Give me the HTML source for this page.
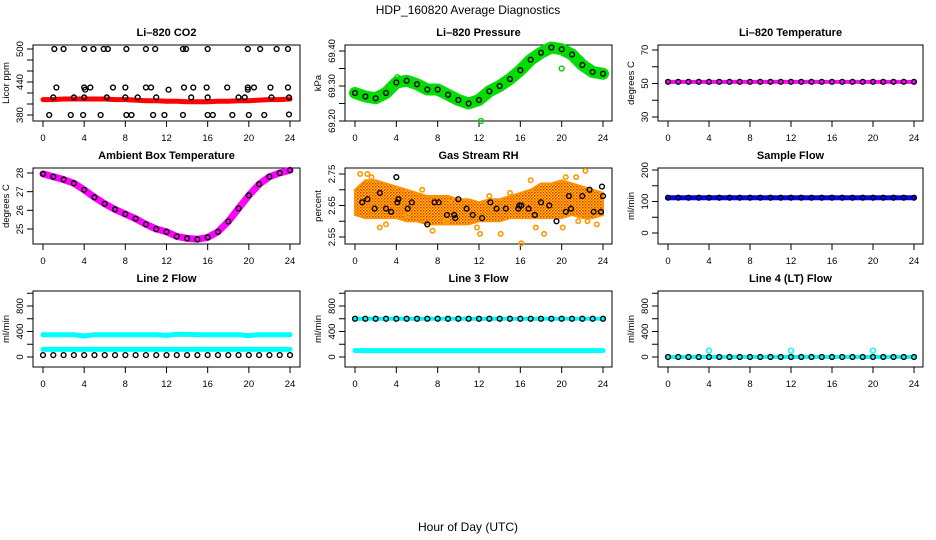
<!DOCTYPE html>
<html><head><meta charset="utf-8"><style>
body{margin:0;background:#fff;width:936px;height:540px;overflow:hidden}
svg{display:block;font-family:"Liberation Sans",sans-serif}
</style></head><body>
<svg id="chart" width="936" height="540" viewBox="0 0 936 540">
<defs>
<pattern id="rhpat" width="3" height="3" patternUnits="userSpaceOnUse"><rect width="3" height="3" fill="#ffd000"/><rect width="1.5" height="1.5" fill="#ff2000"/><rect x="1.5" y="1.5" width="1.5" height="1.5" fill="#ff6000"/></pattern>
</defs>
<text x="468" y="14" text-anchor="middle" font-size="12">HDP_160820  Average Diagnostics</text>
<text x="468" y="531" text-anchor="middle" font-size="12">Hour of Day (UTC)</text>
</svg>
<script>
const hours=[0,1,2,3,4,5,6,7,8,9,10,11,12,13,14,15,16,17,18,19,20,21,22,23,24];
const xTicks=[0,4,8,12,16,20,24];
const co2Red=[408,408,409,409,409,409,409,408,408,407,406,406,405,405,404,404,404,405,405,406,406,407,408,408,409];
const co2Black=[[1.1,500],[2,500],[4,500],[4.9,500],[5.9,500],[6.3,500],[8.1,500],[10,500],[10.9,500],[13.6,500],[13.9,500],[16,500],[19.9,500],[21.1,500],[22.7,500],[23.8,500],
[1.3,430],[4,430],[4.6,430],[6.8,430],[8,430],[10,430],[10.5,430],[13.7,430],[14.6,430],[15.9,430],[17.9,430],[19.9,430],[20.5,430],[22.1,430],[23.8,430],
[1,412],[3,412],[4,412],[6.2,412],[8,412],[9.2,412],[11,412],[14.4,412],[16,412],[19,412],[19.6,412],[22.2,412],[23.9,412],
[0.6,380],[2.7,380],[3.9,380],[5.6,380],[8.1,380],[8.6,380],[10.7,380],[11.8,380],[13.6,380],[16,380],[16.5,380],[18.4,380],[20,380],[21.5,380],[23.9,381],[4.1,426],[12.2,426],[19.9,426]];
const pressure=[69.28,69.27,69.265,69.28,69.31,69.315,69.305,69.29,69.29,69.275,69.26,69.25,69.26,69.285,69.30,69.32,69.345,69.375,69.395,69.41,69.405,69.39,69.36,69.34,69.335];
const ambient=[27.95,27.8,27.65,27.45,27.1,26.7,26.35,26.05,25.8,25.55,25.25,25.0,24.85,24.6,24.5,24.45,24.55,24.85,25.4,26.1,26.8,27.4,27.8,28.0,28.15];
const rhUpper=[2.70,2.73,2.73,2.72,2.71,2.70,2.69,2.68,2.68,2.68,2.67,2.67,2.66,2.67,2.67,2.68,2.69,2.70,2.72,2.72,2.73,2.72,2.71,2.70,2.69];
const rhLower=[2.62,2.61,2.61,2.61,2.61,2.60,2.60,2.59,2.59,2.59,2.59,2.59,2.60,2.60,2.60,2.61,2.61,2.61,2.61,2.61,2.61,2.62,2.61,2.61,2.62];
const rhOrange=[[0.5,2.75],[1.2,2.75],[1.6,2.74],[2.4,2.58],[3,2.59],[7.5,2.57],[8.8,2.60],[9.3,2.67],[11.8,2.58],[12.1,2.56],[14.1,2.56],[16.1,2.53],[17.5,2.58],[18.3,2.56],[20.1,2.58],[21.4,2.74],[22.3,2.76],[21.6,2.60],[22.5,2.60],[23.4,2.59],[20.4,2.74],[5,2.62],[6.5,2.70],[13,2.68],[15,2.69],[17,2.73]];
const rhBlack=[[0.7,2.66],[1.2,2.67],[1.9,2.64],[2.4,2.69],[3,2.64],[3.5,2.63],[4,2.74],[4.1,2.66],[4.2,2.67],[5.1,2.64],[5.5,2.66],[7,2.59],[7.7,2.66],[8.1,2.66],[8.9,2.62],[9.6,2.62],[9.7,2.61],[10,2.67],[10.8,2.64],[11.4,2.62],[12.3,2.61],[13.1,2.66],[13.7,2.64],[14.6,2.64],[15.8,2.64],[15.9,2.65],[16.1,2.65],[16.8,2.64],[17.4,2.62],[18,2.66],[18.8,2.65],[19.5,2.60],[20.4,2.63],[20.7,2.68],[20.9,2.64],[22,2.68],[22.7,2.70],[23.1,2.63],[23.8,2.63],[24,2.68],[23.9,2.71]];
const liTemp=[51,51,51,51,51,51,51,51,51,51,51,51,51,51,51,51,51,51,51,51,51,51,51,51,51];
const sampleFlow=[112,112,112,112,112,112,112,112,112,112,112,112,112,112,112,112,112,112,112,112,112,112,112,112,112];
const line2High=[350,350,350,350,330,350,350,350,350,350,350,350,340,355,355,350,350,350,350,350,335,350,350,350,350];
const line2Low=[120,120,120,120,120,120,120,120,120,120,120,120,120,120,120,120,120,120,120,120,120,120,120,120,120];
const line2Black=[30,30,30,30,30,30,30,30,30,30,30,30,30,30,30,30,30,30,30,30,30,30,30,30,30];
const line3High=[600,600,600,600,600,600,600,600,600,600,600,600,600,600,600,600,600,600,600,600,600,600,600,600,600];
const line3Low=[100,100,100,100,100,100,100,100,100,100,100,100,100,100,100,100,100,100,100,100,100,100,100,100,100];
const line4=[0,0,0,0,0,0,0,0,0,0,0,0,0,0,0,0,0,0,0,0,0,0,0,0,0];
const line4Spikes=[[4,100],[12,100],[20,100]];

const svg=document.getElementById('chart');
const NS='http://www.w3.org/2000/svg';
function mk(tag,attrs,parent){const e=document.createElementNS(NS,tag);for(const k in attrs)e.setAttribute(k,attrs[k]);(parent||svg).appendChild(e);return e;}
const cols=[[33,300,43,290],[345,612,355,603],[658,923,668,914]];
const rows=[[45,121],[168,244],[291,367]];
function panel(name,c,r,title,ylab,v0,p0,v1,p1,yt,ylabels){
  const g=mk('g',{});
  
  
  const [bl,br,x0,x24]=cols[c],[bt,bb]=rows[r];
  const P={g,x:h=>x0+h*(x24-x0)/24,y:v=>p0+(v-v0)*(p1-p0)/(v1-v0)};
  const t=mk('text',{x:(bl+br)/2,y:bt-9,'text-anchor':'middle','font-size':'11','font-weight':'bold'},g);t.textContent=title;
  
  const box=mk('rect',{x:bl,y:bt,width:br-bl,height:bb-bt,fill:'none',stroke:'#000','stroke-width':1},g);
  
  xTicks.forEach(h=>{const X=P.x(h);mk('line',{x1:X,x2:X,y1:bb,y2:bb+6,stroke:'#000'},g);
    const l=mk('text',{x:X,y:bb+20,'text-anchor':'middle','font-size':'9.5'},g);l.textContent=h;
    });
  yt.forEach(v=>{const Y=P.y(v);mk('line',{x1:bl-6,x2:bl,y1:Y,y2:Y,stroke:'#000'},g);
    if(ylabels.includes(v)){const l=mk('text',{x:bl-10,y:Y,'text-anchor':'middle','font-size':'9.5',transform:`rotate(-90 ${bl-10} ${Y})`},g);l.textContent=(typeof v==='number'&&v%1!==0)?v.toFixed(2):v;
    }});
  const yl=mk('text',{x:bl-24,y:(bt+bb)/2,'text-anchor':'middle','font-size':'9.5',transform:`rotate(-90 ${bl-24} ${(bt+bb)/2})`},g);yl.textContent=ylab;
  
  return P;
}
function band(P,vals,color,w,name){const pts=hours.map((h,i)=>P.x(h)+','+P.y(vals[i])).join(' ');
  const e=mk('polyline',{points:pts,fill:'none',stroke:color,'stroke-width':w,'stroke-linejoin':'round','stroke-linecap':'round'},P.g);
  }
function dots(P,pairs,color,r,sw,name){pairs.forEach(([h,v])=>{const e=mk('circle',{cx:P.x(h),cy:P.y(v),r:r,fill:'none',stroke:color,'stroke-width':sw},P.g);
  });}
function series(vals){return hours.map((h,i)=>[h,vals[i]]);}

let P=panel('co2',0,0,'Li\u2013820 CO2','Licor ppm',380,115,500,49,[380,400,420,440,460,480,500],[380,440,500]);
band(P,co2Red,'#ff0000',5,'co2-red-series');
dots(P,co2Black,'#000',2.4,1.4,'co2-point');
P=panel('pressure',1,0,'Li\u2013820 Pressure','kPa',69.20,121,69.40,51,[69.20,69.25,69.30,69.35,69.40],[69.20,69.30,69.40]);
band(P,pressure,'#00dd00',12,'pressure-green-series');
dots(P,[[12.2,69.20],[20,69.35],[4.1,69.325]],'#00cc00',2.4,1.4,'pressure-outlier');
dots(P,series(pressure),'#000',2.4,1.4,'pressure-point');
P=panel('li-temp',2,0,'Li\u2013820 Temperature','degrees C',30,117,70,50,[30,40,50,60,70],[30,50,70]);
band(P,liTemp,'#ff00ff',4,'li-temp-series');
dots(P,series(liTemp),'#000',2.4,1.4,'li-temp-point');
P=panel('ambient',0,1,'Ambient Box Temperature','degrees C',25,229,28,173,[25,26,27,28],[25,26,27,28]);
band(P,ambient,'#ff00ff',7,'ambient-series');
dots(P,series(ambient),'#000',2.4,1.4,'ambient-point');
P=panel('rh',1,1,'Gas Stream RH','percent',2.55,237,2.75,174,[2.55,2.60,2.65,2.70,2.75],[2.55,2.65,2.75]);
{const pts=hours.map((h,i)=>P.x(h)+','+P.y(rhUpper[i])).concat(hours.slice().reverse().map((h,j)=>P.x(h)+','+P.y(rhLower[hours.length-1-j]))).join(' ');
 const e=mk('polygon',{points:pts,fill:'url(#rhpat)',stroke:'#ff9000','stroke-width':2},P.g);
 }
dots(P,rhOrange,'#ff9900',2.2,1.6,'rh-orange-point');
dots(P,rhBlack,'#000',2.4,1.4,'rh-point');
P=panel('sample-flow',2,1,'Sample Flow','ml/min',0,233,200,170,[0,50,100,150,200],[0,100,200]);
band(P,sampleFlow,'#0000ff',5,'sample-flow-series');
dots(P,series(sampleFlow),'#000',2.4,1.4,'sample-flow-point');
const flowT=[0,200,400,600,800,1000],flowL=[0,400,800];
P=panel('line2-flow',0,2,'Line 2 Flow','ml/min',0,357,800,306,flowT,flowL);
band(P,line2High,'#00ffff',5,'line2-high-series');
band(P,line2Low,'#00ffff',5,'line2-low-series');
dots(P,series(line2Black),'#000',2.4,1.4,'line2-point');
P=panel('line3-flow',1,2,'Line 3 Flow','ml/min',0,357,800,306,flowT,flowL);
band(P,line3High,'#00ffff',4,'line3-high-series');
band(P,line3Low,'#00ffff',5,'line3-low-series');
dots(P,series(line3High),'#000',2.4,1.4,'line3-point');
P=panel('line4-flow',2,2,'Line 4 (LT) Flow','ml/min',0,357,800,306,flowT,flowL);
band(P,line4,'#00ffff',4,'line4-series');
dots(P,series(line4),'#000',2.4,1.4,'line4-point');
dots(P,line4Spikes,'#00ffff',2.4,1.4,'line4-spike');
</script>
</body></html>
